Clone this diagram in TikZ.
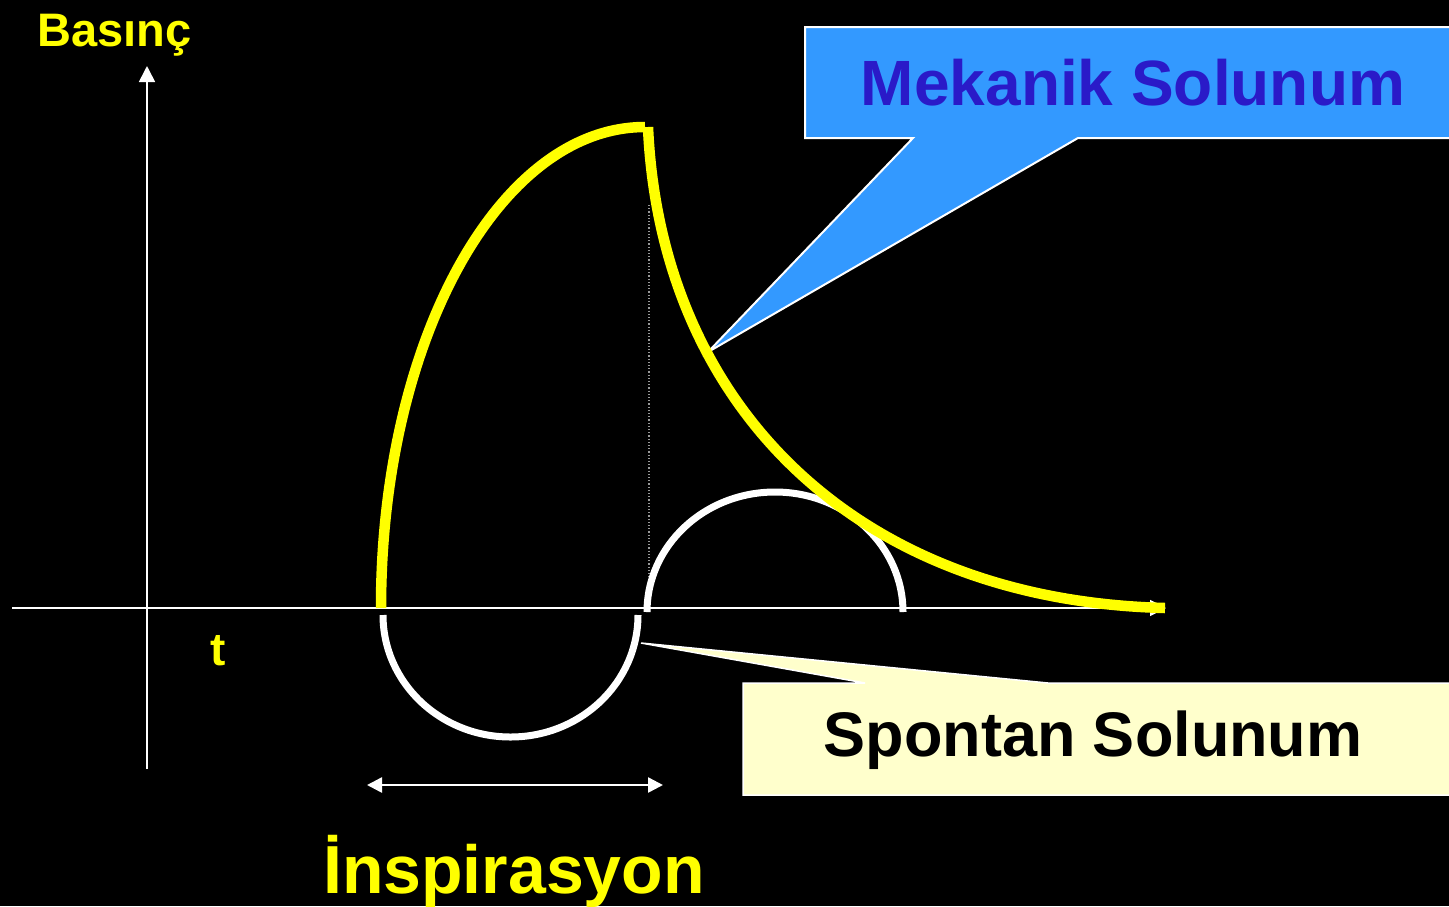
\documentclass[tikz,border=0pt]{standalone}
\usepackage{fontspec}
\setmainfont{Liberation Sans}
\usetikzlibrary{arrows.meta}
\definecolor{ylw}{HTML}{FFFF00}
\definecolor{callblue}{HTML}{3399FF}
\definecolor{darkblue}{HTML}{2A1AC8}
\definecolor{paleyel}{HTML}{FFFFCC}
\tikzset{
  lbl/.style={anchor=base, inner sep=0pt, font=\bfseries},
  axisline/.style={draw=white, line width=1.6pt},
  tip/.style={-{Triangle[width=16pt,length=16pt]}},
  ycurve/.style={draw=ylw, line width=10.5pt},
  wcurve/.style={draw=white, line width=7pt},
}
\begin{document}
\begin{tikzpicture}[x=1pt,y=-1pt]
\fill[black] (0,0) rectangle (1449,906);
\useasboundingbox (0,0) rectangle (1449,906);
\begin{scope}
\clip (0,0) rectangle (1449,906);
% callouts
\filldraw[fill=callblue, draw=white, line width=2pt]
  (805,27) -- (1460,27) -- (1460,138) -- (1078,138) -- (708,352) -- (913,138) -- (805,138) -- cycle;
\filldraw[fill=paleyel, draw=white, line width=1.5pt]
  (743,683) -- (865,683) -- (641,643) -- (1048,683) -- (1460,683) -- (1460,795) -- (743,795) -- cycle;
\end{scope}
% axes
\coordinate (o) at (147,608);
\coordinate (xl) at (12,608);
\coordinate (xr) at (1166,608);
\coordinate (yb) at (147,769);
\coordinate (yt) at (147,66);
\draw[axisline, tip] (xl) -- (xr);
\draw[axisline, tip] (yb) -- (yt);
% dotted line
\coordinate (d1) at (649,205);
\coordinate (d2) at (649,600);
\draw[gray!80, line width=1.2pt, dotted] (d1) -- (d2);
% white curves (spontaneous)
\draw[wcurve] (383,615) .. controls (383,682.4) and (440.1,737) .. (510.5,737)
  .. controls (580.9,737) and (638,682.4) .. (638,615);
\draw[wcurve] (647,612) .. controls (647,545.7) and (704.3,492) .. (775,492)
  .. controls (845.7,492) and (903,545.7) .. (903,612);
% yellow curves (mechanical)
\draw[ycurve] (381,608) .. controls (381,342.3) and (498.3,127) .. (645,127);
\draw[ycurve] (648,127) .. controls (660,400) and (850,600) .. (1165,608);
% double arrow
\coordinate (a1) at (367,785);
\coordinate (a2) at (663,785);
\draw[draw=white, line width=2.5pt, {Triangle[width=15pt,length=15pt]}-{Triangle[width=15pt,length=15pt]}] (a1) -- (a2);
% labels
\node[lbl, text=ylw, font=\bfseries\fontsize{47}{50}\selectfont] (basinc) at (114.5,46) {Basınç};
\node[lbl, text=ylw, font=\bfseries\fontsize{46}{50}\selectfont] (t) at (218,665) {t};
\node[lbl, text=darkblue, font=\bfseries\fontsize{64}{70}\selectfont] (mek) at (1133,105) {Mekanik Solunum};
\node[lbl, text=black, font=\bfseries\fontsize{63}{70}\selectfont] (spo) at (1093,756) {Spontan Solunum};
\node[lbl, text=ylw, font=\bfseries\fontsize{68}{74}\selectfont] (insp) at (514,893) {İnspirasyon};
\end{tikzpicture}
\end{document}
